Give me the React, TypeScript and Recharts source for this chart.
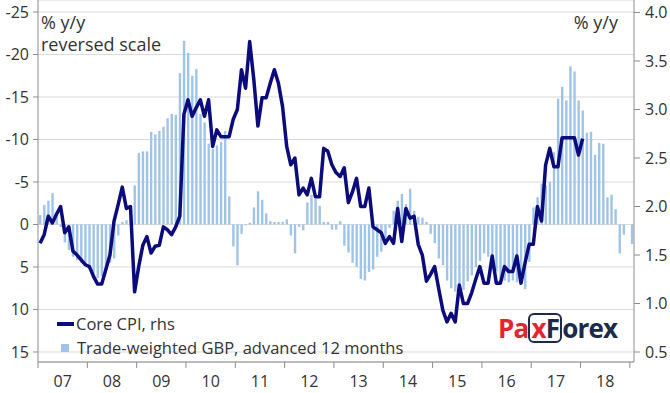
import { ComposedChart, Bar, Line, XAxis, YAxis, CartesianGrid, Legend } from 'recharts';

// month categories Jan-2007 .. Jan-2019
const startYear = 2007;
const monthCount = 145;
const months: string[] = Array.from({ length: monthCount }, (_, i) => {
  const y = startYear + Math.floor(i / 12);
  const m = (i % 12) + 1;
  return `${y}-${m < 10 ? '0' + m : m}`;
});

const yearTicks = ['2007-01', '2008-01', '2009-01', '2010-01', '2011-01', '2012-01', '2013-01', '2014-01', '2015-01', '2016-01', '2017-01', '2018-01', '2019-01'];
const yearLabels = ['07', '08', '09', '10', '11', '12', '13', '14', '15', '16', '17', '18', ''];

// trade-weighted GBP y/y, advanced 12 months (lhs, reversed)
const tradeWeightedGbp = [
  -1.1, -2.3, -2.8, -3.7, -1.5, 0.3, 2.1, 3.0, 3.8, 4.2, 4.5, 4.9,
  5.3, 5.9, 6.3, 6.1, 5.3, 4.5, 4.0, 1.3, -0.3, -0.5, -1.5, -4.6,
  -8.4, -8.6, -8.6, -10.9, -10.6, -11.0, -11.5, -12.5, -13.0, -12.9, -17.8, -21.6,
  -20.2, -17.5, -18.3, -13.0, -12.0, -9.5, -8.9, -9.3, -9.7, -11.0, -3.3, 2.6,
  4.8, 1.1, 0.1, -0.2, -2.0, -3.9, -2.9, -1.3, -0.4, -0.3, -0.3, -0.3,
  -0.6, 1.3, 3.4, 0.3, 0.7, -2.6, -3.5, -3.0, -2.2, -0.3, -0.3, 0.6,
  0.6, -0.4, 2.5, 3.3, 4.5, 5.0, 6.4, 6.6, 5.6, 5.3, 3.8, 3.2,
  2.1, 0.4, -1.6, -2.8, -3.6, -2.4, -4.2, -1.6, -0.9, -0.8, -0.3, 1.1,
  2.2, 4.0, 4.8, 6.6, 7.5, 7.9, 8.1, 7.7, 6.7, 6.0, 5.0, 4.3,
  3.4, 3.8, 5.0, 5.5, 6.4, 6.6, 6.8, 6.6, 6.8, 6.9, 7.6, 4.4,
  -2.0, -3.2, -4.8, -4.6, -5.0, -8.5, -14.8, -16.2, -14.6, -18.6, -18.0, -14.6,
  -13.4, -10.8, -10.9, -8.2, -9.6, -9.5, -3.2, -3.5, -1.8, 3.4, 1.2, 0,
  2.3,
];

// UK core CPI y/y (rhs)
const coreCpi = [
  1.62, 1.71, 1.9, 1.83, 1.92, 2.0, 1.73, 1.79, 1.54, 1.5, 1.45, 1.4,
  1.38, 1.28, 1.2, 1.2, 1.35, 1.5, 1.85, 2.02, 2.2, 1.98, 2.0, 1.12,
  1.38, 1.6, 1.69, 1.52, 1.59, 1.6, 1.79, 1.76, 1.71, 1.79, 1.9, 2.95,
  3.1, 2.93, 3.02, 3.1, 2.93, 3.1, 2.62, 2.79, 2.72, 2.72, 2.72, 2.9,
  3.0, 3.41, 3.22, 3.7, 3.31, 2.83, 3.12, 3.12, 3.27, 3.41, 3.27, 3.03,
  2.62, 2.43, 2.5, 2.12, 2.19, 2.12, 2.29, 2.1, 2.1, 2.6, 2.57, 2.43,
  2.35, 2.31, 2.4, 2.04, 2.15, 2.29, 2.0, 2.0, 2.19, 1.79, 1.76, 1.73,
  1.62, 1.69, 1.62, 1.98, 1.64, 1.98, 1.88, 1.9, 1.61, 1.5, 1.23, 1.3,
  1.38, 1.15, 0.93, 0.81, 0.9, 0.81, 1.19, 1.0, 1.0, 1.11, 1.25, 1.38,
  1.21, 1.21, 1.49, 1.21, 1.21, 1.38, 1.33, 1.33, 1.49, 1.21, 1.42, 1.61,
  1.61, 2.0, 1.85, 2.43, 2.6, 2.41, 2.41, 2.71, 2.71, 2.71, 2.71, 2.53,
  2.7,
];

const leftTicks = [-25, -20, -15, -10, -5, 0, 5, 10, 15];
const rightTicks = [0.5, 1.0, 1.5, 2.0, 2.5, 3.0, 3.5, 4.0];

const data = months.map((month, i) => ({
  month,
  gbp: tradeWeightedGbp[i] ?? null,
  cpi: coreCpi[i] ?? null,
}));

const W = 670;
const H = 393;
const LEFT_W = 38;
const RIGHT_W = 36;
const BAND = (W - LEFT_W - RIGHT_W) / monthCount;

const FONT = '"Open Sans", sans-serif';
const TEXT = '#333333';
const AXIS = '#8c8c8c';
const NAVY = '#0b0b7c';
const BAR = '#9fc4e8';

const YearTick = (props: any) => {
  const { x, y, payload } = props;
  const idx = yearTicks.indexOf(payload.value);
  const start = x - BAND / 2;
  const axisY = y - 14;
  return (
    <g>
      <line x1={start} x2={start} y1={axisY} y2={axisY + 6} stroke={AXIS} strokeWidth={1} />
      <text x={start + BAND * 6} y={y} dy="0.71em" textAnchor="middle" fill={TEXT} fontSize={16} fontFamily={FONT}>
        {yearLabels[idx]}
      </text>
    </g>
  );
};

const renderLegend = () => (
  <div style={{ fontFamily: FONT, fontSize: 16.5, color: TEXT, lineHeight: '24px', whiteSpace: 'nowrap' }}>
    <div style={{ display: 'flex', alignItems: 'center' }}>
      <span style={{ display: 'inline-block', width: 17, height: 4, background: NAVY, marginRight: 2 }} />
      Core CPI, rhs
    </div>
    <div style={{ display: 'flex', alignItems: 'center' }}>
      <span style={{ display: 'inline-block', width: 8, height: 8, background: BAR, marginLeft: 4, marginRight: 8 }} />
      Trade-weighted GBP, advanced 12 months
    </div>
  </div>
);

const App = () => {
  return (
    <div style={{ position: 'relative', width: W, height: H, background: '#fff' }}>
      <style>{'body{margin:0}'}</style>
      <ComposedChart width={W} height={H} data={data} margin={{ top: 0, right: 0, bottom: 0, left: 0 }}>
        <CartesianGrid yAxisId="left" vertical={false} stroke="#dadada" strokeWidth={1} />
        <XAxis
          dataKey="month"
          ticks={yearTicks}
          interval={0}
          height={31}
          tick={<YearTick />}
          tickLine={false}
          tickSize={6}
          tickMargin={8}
          axisLine={{ stroke: AXIS }}
        />
        <YAxis
          yAxisId="left"
          reversed
          domain={[-26.41, 16.18]}
          ticks={leftTicks}
          allowDataOverflow
          width={LEFT_W}
          tickSize={5}
          tickMargin={4}
          axisLine={{ stroke: AXIS }}
          tickLine={{ stroke: AXIS }}
          tick={{ fill: TEXT, fontSize: 16, fontFamily: FONT }}
        />
        <YAxis
          yAxisId="right"
          orientation="right"
          domain={[0.397, 4.129]}
          ticks={rightTicks}
          allowDataOverflow
          width={RIGHT_W}
          tickSize={6}
          tickMargin={5}
          tickFormatter={(v: number) => v.toFixed(1)}
          axisLine={{ stroke: AXIS }}
          tickLine={{ stroke: AXIS }}
          tick={{ fill: TEXT, fontSize: 16, fontFamily: FONT }}
        />
        <Bar yAxisId="left" dataKey="gbp" name="Trade-weighted GBP, advanced 12 months" fill={BAR} barSize={2.4} isAnimationActive={false} />
        <Line
          yAxisId="right"
          dataKey="cpi"
          name="Core CPI, rhs"
          stroke={NAVY}
          strokeWidth={3.5}
          dot={false}
          strokeLinejoin="round"
          isAnimationActive={false}
        />
        <Legend
          layout="vertical"
          align="center"
          verticalAlign="middle"
          content={renderLegend}
          wrapperStyle={{ left: 57, top: 312, width: 'auto' }}
        />
      </ComposedChart>
      <div style={{ position: 'absolute', left: 41, top: 11, fontFamily: FONT, fontSize: 18, lineHeight: '22px', color: TEXT }}>
        % y/y
        <br />
        reversed scale
      </div>
      <div style={{ position: 'absolute', right: 52, top: 11, fontFamily: FONT, fontSize: 18, lineHeight: '22px', color: TEXT }}>
        % y/y
      </div>
      <div style={{ position: 'absolute', left: 498, top: 312, fontFamily: FONT, fontWeight: 700, fontSize: 26, letterSpacing: -0.8, lineHeight: '32px', whiteSpace: 'nowrap' }}>
        <span style={{ color: '#e3262d' }}>Pa</span>
        <span style={{ display: 'inline-block', border: '2px solid #1d2a48', borderRadius: 6, padding: '0 1px', lineHeight: '26px' }}>
          <span style={{ color: '#e3262d' }}>x</span>
          <span style={{ color: '#1d2a48' }}>F</span>
        </span>
        <span style={{ color: '#1d2a48' }}>orex</span>
      </div>
    </div>
  );
};

export default App;
